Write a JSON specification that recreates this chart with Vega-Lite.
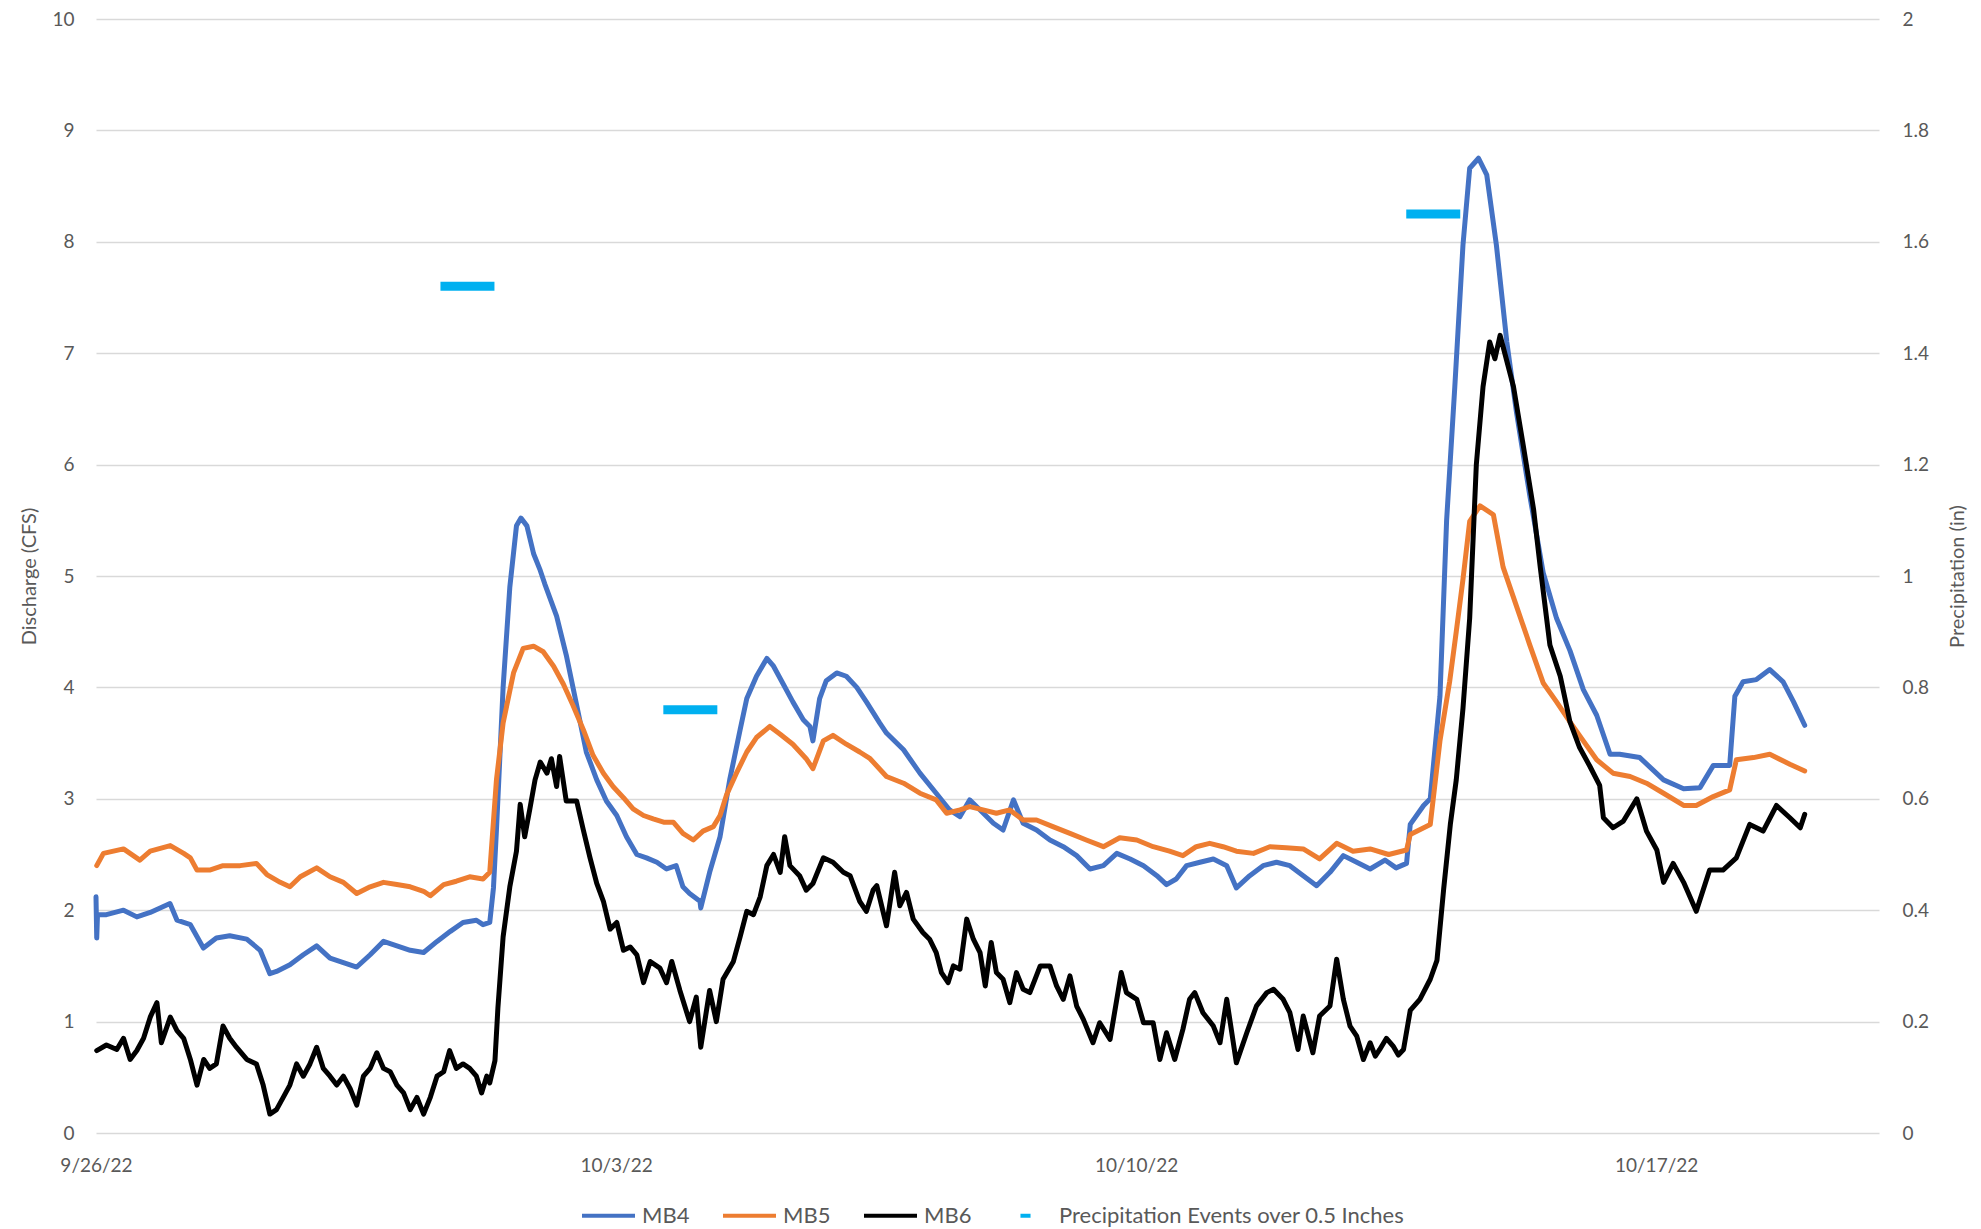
{
"$schema": "https://vega.github.io/schema/vega-lite/v6.json",
"width": 1783, "height": 1114,
"autosize": {"type": "none"},
"padding": {"left": 96, "top": 19, "right": 102, "bottom": 96},
"background": "white",
"config": {"view": {"stroke": null}, "font": "Lato",
 "axis": {"labelFont": "Lato", "titleFont": "Lato", "labelColor": "#595959", "titleColor": "#595959", "titleFontWeight": "normal", "domain": false, "ticks": false, "labelFontSize": 19, "titleFontSize": 20}},
"datasets": {
"flow": [
{"date":"2022-09-26T00:00","site":"MB4","discharge":2.12},
{"date":"2022-09-26T00:14","site":"MB4","discharge":1.75},
{"date":"2022-09-26T00:29","site":"MB4","discharge":1.96},
{"date":"2022-09-26T03:22","site":"MB4","discharge":1.96},
{"date":"2022-09-26T08:53","site":"MB4","discharge":2.00},
{"date":"2022-09-26T13:12","site":"MB4","discharge":1.94},
{"date":"2022-09-26T17:31","site":"MB4","discharge":1.98},
{"date":"2022-09-26T23:54","site":"MB4","discharge":2.06},
{"date":"2022-09-27T02:10","site":"MB4","discharge":1.91},
{"date":"2022-09-27T06:29","site":"MB4","discharge":1.87},
{"date":"2022-09-27T10:41","site":"MB4","discharge":1.66},
{"date":"2022-09-27T14:53","site":"MB4","discharge":1.75},
{"date":"2022-09-27T19:12","site":"MB4","discharge":1.77},
{"date":"2022-09-28T00:43","site":"MB4","discharge":1.74},
{"date":"2022-09-28T05:02","site":"MB4","discharge":1.64},
{"date":"2022-09-28T08:10","site":"MB4","discharge":1.43},
{"date":"2022-09-28T10:19","site":"MB4","discharge":1.45},
{"date":"2022-09-28T14:38","site":"MB4","discharge":1.51},
{"date":"2022-09-28T18:58","site":"MB4","discharge":1.60},
{"date":"2022-09-28T23:17","site":"MB4","discharge":1.68},
{"date":"2022-09-29T03:36","site":"MB4","discharge":1.57},
{"date":"2022-09-29T07:55","site":"MB4","discharge":1.53},
{"date":"2022-09-29T12:14","site":"MB4","discharge":1.49},
{"date":"2022-09-29T16:34","site":"MB4","discharge":1.60},
{"date":"2022-09-29T20:53","site":"MB4","discharge":1.72},
{"date":"2022-09-30T01:12","site":"MB4","discharge":1.68},
{"date":"2022-09-30T05:31","site":"MB4","discharge":1.64},
{"date":"2022-09-30T09:50","site":"MB4","discharge":1.62},
{"date":"2022-09-30T14:10","site":"MB4","discharge":1.72},
{"date":"2022-09-30T18:29","site":"MB4","discharge":1.81},
{"date":"2022-09-30T22:34","site":"MB4","discharge":1.89},
{"date":"2022-10-01T02:53","site":"MB4","discharge":1.91},
{"date":"2022-10-01T05:02","site":"MB4","discharge":1.87},
{"date":"2022-10-01T07:12","site":"MB4","discharge":1.89},
{"date":"2022-10-01T08:24","site":"MB4","discharge":2.20},
{"date":"2022-10-01T09:22","site":"MB4","discharge":2.72},
{"date":"2022-10-01T11:31","site":"MB4","discharge":4.00},
{"date":"2022-10-01T13:41","site":"MB4","discharge":4.90},
{"date":"2022-10-01T15:50","site":"MB4","discharge":5.45},
{"date":"2022-10-01T17:17","site":"MB4","discharge":5.52},
{"date":"2022-10-01T19:12","site":"MB4","discharge":5.45},
{"date":"2022-10-01T21:22","site":"MB4","discharge":5.20},
{"date":"2022-10-01T23:31","site":"MB4","discharge":5.05},
{"date":"2022-10-02T00:58","site":"MB4","discharge":4.93},
{"date":"2022-10-02T04:48","site":"MB4","discharge":4.64},
{"date":"2022-10-02T07:55","site":"MB4","discharge":4.29},
{"date":"2022-10-02T11:17","site":"MB4","discharge":3.84},
{"date":"2022-10-02T14:24","site":"MB4","discharge":3.42},
{"date":"2022-10-02T17:46","site":"MB4","discharge":3.17},
{"date":"2022-10-02T20:53","site":"MB4","discharge":2.98},
{"date":"2022-10-03T00:14","site":"MB4","discharge":2.85},
{"date":"2022-10-03T03:22","site":"MB4","discharge":2.66},
{"date":"2022-10-03T06:43","site":"MB4","discharge":2.50},
{"date":"2022-10-03T09:50","site":"MB4","discharge":2.47},
{"date":"2022-10-03T13:12","site":"MB4","discharge":2.43},
{"date":"2022-10-03T16:19","site":"MB4","discharge":2.37},
{"date":"2022-10-03T19:26","site":"MB4","discharge":2.40},
{"date":"2022-10-03T21:36","site":"MB4","discharge":2.21},
{"date":"2022-10-03T23:46","site":"MB4","discharge":2.15},
{"date":"2022-10-04T03:07","site":"MB4","discharge":2.08},
{"date":"2022-10-04T03:22","site":"MB4","discharge":2.02},
{"date":"2022-10-04T06:14","site":"MB4","discharge":2.34},
{"date":"2022-10-04T09:36","site":"MB4","discharge":2.66},
{"date":"2022-10-04T12:43","site":"MB4","discharge":3.17},
{"date":"2022-10-04T16:05","site":"MB4","discharge":3.62},
{"date":"2022-10-04T18:14","site":"MB4","discharge":3.90},
{"date":"2022-10-04T21:22","site":"MB4","discharge":4.10},
{"date":"2022-10-05T00:43","site":"MB4","discharge":4.26},
{"date":"2022-10-05T02:53","site":"MB4","discharge":4.19},
{"date":"2022-10-05T06:00","site":"MB4","discharge":4.03},
{"date":"2022-10-05T09:07","site":"MB4","discharge":3.87},
{"date":"2022-10-05T12:29","site":"MB4","discharge":3.71},
{"date":"2022-10-05T14:38","site":"MB4","discharge":3.65},
{"date":"2022-10-05T15:36","site":"MB4","discharge":3.52},
{"date":"2022-10-05T17:46","site":"MB4","discharge":3.90},
{"date":"2022-10-05T19:55","site":"MB4","discharge":4.06},
{"date":"2022-10-05T23:17","site":"MB4","discharge":4.13},
{"date":"2022-10-06T02:24","site":"MB4","discharge":4.10},
{"date":"2022-10-06T05:46","site":"MB4","discharge":4.00},
{"date":"2022-10-06T08:53","site":"MB4","discharge":3.87},
{"date":"2022-10-06T13:12","site":"MB4","discharge":3.68},
{"date":"2022-10-06T15:22","site":"MB4","discharge":3.59},
{"date":"2022-10-06T20:53","site":"MB4","discharge":3.44},
{"date":"2022-10-07T02:10","site":"MB4","discharge":3.23},
{"date":"2022-10-07T07:26","site":"MB4","discharge":3.05},
{"date":"2022-10-07T11:46","site":"MB4","discharge":2.90},
{"date":"2022-10-07T15:07","site":"MB4","discharge":2.84},
{"date":"2022-10-07T18:14","site":"MB4","discharge":2.99},
{"date":"2022-10-07T21:36","site":"MB4","discharge":2.90},
{"date":"2022-10-08T01:55","site":"MB4","discharge":2.78},
{"date":"2022-10-08T05:02","site":"MB4","discharge":2.72},
{"date":"2022-10-08T08:24","site":"MB4","discharge":2.99},
{"date":"2022-10-08T11:31","site":"MB4","discharge":2.78},
{"date":"2022-10-08T15:50","site":"MB4","discharge":2.72},
{"date":"2022-10-08T20:10","site":"MB4","discharge":2.63},
{"date":"2022-10-09T00:29","site":"MB4","discharge":2.57},
{"date":"2022-10-09T04:48","site":"MB4","discharge":2.49},
{"date":"2022-10-09T09:07","site":"MB4","discharge":2.37},
{"date":"2022-10-09T13:26","site":"MB4","discharge":2.40},
{"date":"2022-10-09T17:46","site":"MB4","discharge":2.51},
{"date":"2022-10-09T22:05","site":"MB4","discharge":2.46},
{"date":"2022-10-10T02:24","site":"MB4","discharge":2.40},
{"date":"2022-10-10T06:43","site":"MB4","discharge":2.31},
{"date":"2022-10-10T09:50","site":"MB4","discharge":2.23},
{"date":"2022-10-10T12:58","site":"MB4","discharge":2.28},
{"date":"2022-10-10T16:19","site":"MB4","discharge":2.40},
{"date":"2022-10-10T20:38","site":"MB4","discharge":2.43},
{"date":"2022-10-11T00:58","site":"MB4","discharge":2.46},
{"date":"2022-10-11T05:17","site":"MB4","discharge":2.40},
{"date":"2022-10-11T08:24","site":"MB4","discharge":2.20},
{"date":"2022-10-11T12:43","site":"MB4","discharge":2.31},
{"date":"2022-10-11T17:02","site":"MB4","discharge":2.40},
{"date":"2022-10-11T21:22","site":"MB4","discharge":2.43},
{"date":"2022-10-12T01:41","site":"MB4","discharge":2.40},
{"date":"2022-10-12T06:00","site":"MB4","discharge":2.31},
{"date":"2022-10-12T10:19","site":"MB4","discharge":2.22},
{"date":"2022-10-12T14:38","site":"MB4","discharge":2.34},
{"date":"2022-10-12T18:58","site":"MB4","discharge":2.49},
{"date":"2022-10-12T23:17","site":"MB4","discharge":2.43},
{"date":"2022-10-13T03:36","site":"MB4","discharge":2.37},
{"date":"2022-10-13T08:24","site":"MB4","discharge":2.45},
{"date":"2022-10-13T12:00","site":"MB4","discharge":2.38},
{"date":"2022-10-13T15:22","site":"MB4","discharge":2.42},
{"date":"2022-10-13T16:34","site":"MB4","discharge":2.77},
{"date":"2022-10-13T20:53","site":"MB4","discharge":2.94},
{"date":"2022-10-13T23:02","site":"MB4","discharge":3.00},
{"date":"2022-10-14T02:10","site":"MB4","discharge":3.92},
{"date":"2022-10-14T04:19","site":"MB4","discharge":5.50},
{"date":"2022-10-14T06:58","site":"MB4","discharge":6.70},
{"date":"2022-10-14T09:36","site":"MB4","discharge":7.97},
{"date":"2022-10-14T11:46","site":"MB4","discharge":8.66},
{"date":"2022-10-14T14:38","site":"MB4","discharge":8.75},
{"date":"2022-10-14T17:17","site":"MB4","discharge":8.60},
{"date":"2022-10-14T20:24","site":"MB4","discharge":7.97},
{"date":"2022-10-14T23:46","site":"MB4","discharge":7.10},
{"date":"2022-10-15T02:53","site":"MB4","discharge":6.47},
{"date":"2022-10-15T07:12","site":"MB4","discharge":5.72},
{"date":"2022-10-15T11:31","site":"MB4","discharge":5.03},
{"date":"2022-10-15T15:50","site":"MB4","discharge":4.62},
{"date":"2022-10-15T20:10","site":"MB4","discharge":4.33},
{"date":"2022-10-16T00:29","site":"MB4","discharge":3.98},
{"date":"2022-10-16T04:48","site":"MB4","discharge":3.75},
{"date":"2022-10-16T09:07","site":"MB4","discharge":3.40},
{"date":"2022-10-16T12:14","site":"MB4","discharge":3.40},
{"date":"2022-10-16T18:43","site":"MB4","discharge":3.37},
{"date":"2022-10-17T02:24","site":"MB4","discharge":3.17},
{"date":"2022-10-17T08:53","site":"MB4","discharge":3.09},
{"date":"2022-10-17T14:10","site":"MB4","discharge":3.10},
{"date":"2022-10-17T18:29","site":"MB4","discharge":3.30},
{"date":"2022-10-17T23:46","site":"MB4","discharge":3.30},
{"date":"2022-10-18T01:26","site":"MB4","discharge":3.92},
{"date":"2022-10-18T04:05","site":"MB4","discharge":4.05},
{"date":"2022-10-18T08:24","site":"MB4","discharge":4.07},
{"date":"2022-10-18T12:43","site":"MB4","discharge":4.16},
{"date":"2022-10-18T17:02","site":"MB4","discharge":4.05},
{"date":"2022-10-18T20:24","site":"MB4","discharge":3.87},
{"date":"2022-10-19T00:00","site":"MB4","discharge":3.66},
{"date":"2022-09-26T00:14","site":"MB5","discharge":2.40},
{"date":"2022-09-26T02:24","site":"MB5","discharge":2.51},
{"date":"2022-09-26T08:53","site":"MB5","discharge":2.55},
{"date":"2022-09-26T14:10","site":"MB5","discharge":2.45},
{"date":"2022-09-26T17:31","site":"MB5","discharge":2.53},
{"date":"2022-09-27T00:00","site":"MB5","discharge":2.58},
{"date":"2022-09-27T04:19","site":"MB5","discharge":2.51},
{"date":"2022-09-27T06:29","site":"MB5","discharge":2.47},
{"date":"2022-09-27T08:38","site":"MB5","discharge":2.36},
{"date":"2022-09-27T12:43","site":"MB5","discharge":2.36},
{"date":"2022-09-27T17:02","site":"MB5","discharge":2.40},
{"date":"2022-09-27T22:34","site":"MB5","discharge":2.40},
{"date":"2022-09-28T03:50","site":"MB5","discharge":2.42},
{"date":"2022-09-28T07:12","site":"MB5","discharge":2.32},
{"date":"2022-09-28T11:31","site":"MB5","discharge":2.25},
{"date":"2022-09-28T14:38","site":"MB5","discharge":2.21},
{"date":"2022-09-28T18:00","site":"MB5","discharge":2.30},
{"date":"2022-09-28T23:17","site":"MB5","discharge":2.38},
{"date":"2022-09-29T03:36","site":"MB5","discharge":2.30},
{"date":"2022-09-29T07:55","site":"MB5","discharge":2.25},
{"date":"2022-09-29T12:14","site":"MB5","discharge":2.15},
{"date":"2022-09-29T16:34","site":"MB5","discharge":2.21},
{"date":"2022-09-29T20:53","site":"MB5","discharge":2.25},
{"date":"2022-09-30T01:12","site":"MB5","discharge":2.23},
{"date":"2022-09-30T05:31","site":"MB5","discharge":2.21},
{"date":"2022-09-30T09:50","site":"MB5","discharge":2.17},
{"date":"2022-09-30T12:00","site":"MB5","discharge":2.13},
{"date":"2022-09-30T16:19","site":"MB5","discharge":2.23},
{"date":"2022-09-30T20:24","site":"MB5","discharge":2.26},
{"date":"2022-10-01T00:43","site":"MB5","discharge":2.30},
{"date":"2022-10-01T05:02","site":"MB5","discharge":2.28},
{"date":"2022-10-01T07:12","site":"MB5","discharge":2.34},
{"date":"2022-10-01T09:22","site":"MB5","discharge":3.17},
{"date":"2022-10-01T11:31","site":"MB5","discharge":3.68},
{"date":"2022-10-01T14:53","site":"MB5","discharge":4.13},
{"date":"2022-10-01T18:00","site":"MB5","discharge":4.35},
{"date":"2022-10-01T21:22","site":"MB5","discharge":4.37},
{"date":"2022-10-02T00:29","site":"MB5","discharge":4.32},
{"date":"2022-10-02T03:50","site":"MB5","discharge":4.19},
{"date":"2022-10-02T06:58","site":"MB5","discharge":4.03},
{"date":"2022-10-02T10:05","site":"MB5","discharge":3.84},
{"date":"2022-10-02T13:26","site":"MB5","discharge":3.62},
{"date":"2022-10-02T16:34","site":"MB5","discharge":3.39},
{"date":"2022-10-02T19:55","site":"MB5","discharge":3.23},
{"date":"2022-10-02T23:02","site":"MB5","discharge":3.11},
{"date":"2022-10-03T02:24","site":"MB5","discharge":3.01},
{"date":"2022-10-03T05:31","site":"MB5","discharge":2.91},
{"date":"2022-10-03T08:53","site":"MB5","discharge":2.85},
{"date":"2022-10-03T12:00","site":"MB5","discharge":2.82},
{"date":"2022-10-03T15:22","site":"MB5","discharge":2.79},
{"date":"2022-10-03T18:29","site":"MB5","discharge":2.79},
{"date":"2022-10-03T21:36","site":"MB5","discharge":2.69},
{"date":"2022-10-04T00:58","site":"MB5","discharge":2.63},
{"date":"2022-10-04T04:05","site":"MB5","discharge":2.71},
{"date":"2022-10-04T07:26","site":"MB5","discharge":2.75},
{"date":"2022-10-04T09:36","site":"MB5","discharge":2.85},
{"date":"2022-10-04T11:46","site":"MB5","discharge":3.04},
{"date":"2022-10-04T14:53","site":"MB5","discharge":3.23},
{"date":"2022-10-04T18:14","site":"MB5","discharge":3.42},
{"date":"2022-10-04T21:22","site":"MB5","discharge":3.55},
{"date":"2022-10-05T01:41","site":"MB5","discharge":3.65},
{"date":"2022-10-05T05:02","site":"MB5","discharge":3.58},
{"date":"2022-10-05T09:07","site":"MB5","discharge":3.49},
{"date":"2022-10-05T13:26","site":"MB5","discharge":3.36},
{"date":"2022-10-05T15:36","site":"MB5","discharge":3.27},
{"date":"2022-10-05T18:58","site":"MB5","discharge":3.52},
{"date":"2022-10-05T22:05","site":"MB5","discharge":3.57},
{"date":"2022-10-06T02:24","site":"MB5","discharge":3.49},
{"date":"2022-10-06T06:43","site":"MB5","discharge":3.42},
{"date":"2022-10-06T10:05","site":"MB5","discharge":3.36},
{"date":"2022-10-06T15:22","site":"MB5","discharge":3.20},
{"date":"2022-10-06T20:53","site":"MB5","discharge":3.14},
{"date":"2022-10-07T02:10","site":"MB5","discharge":3.05},
{"date":"2022-10-07T07:26","site":"MB5","discharge":2.99},
{"date":"2022-10-07T10:48","site":"MB5","discharge":2.87},
{"date":"2022-10-07T15:07","site":"MB5","discharge":2.90},
{"date":"2022-10-07T18:14","site":"MB5","discharge":2.93},
{"date":"2022-10-07T22:34","site":"MB5","discharge":2.90},
{"date":"2022-10-08T02:53","site":"MB5","discharge":2.87},
{"date":"2022-10-08T07:12","site":"MB5","discharge":2.90},
{"date":"2022-10-08T11:31","site":"MB5","discharge":2.81},
{"date":"2022-10-08T15:50","site":"MB5","discharge":2.81},
{"date":"2022-10-08T21:07","site":"MB5","discharge":2.75},
{"date":"2022-10-09T02:38","site":"MB5","discharge":2.69},
{"date":"2022-10-09T07:55","site":"MB5","discharge":2.63},
{"date":"2022-10-09T13:26","site":"MB5","discharge":2.57},
{"date":"2022-10-09T18:43","site":"MB5","discharge":2.65},
{"date":"2022-10-10T00:14","site":"MB5","discharge":2.63},
{"date":"2022-10-10T05:31","site":"MB5","discharge":2.57},
{"date":"2022-10-10T10:48","site":"MB5","discharge":2.53},
{"date":"2022-10-10T15:07","site":"MB5","discharge":2.49},
{"date":"2022-10-10T19:26","site":"MB5","discharge":2.57},
{"date":"2022-10-10T23:46","site":"MB5","discharge":2.60},
{"date":"2022-10-11T04:05","site":"MB5","discharge":2.57},
{"date":"2022-10-11T08:24","site":"MB5","discharge":2.53},
{"date":"2022-10-11T13:55","site":"MB5","discharge":2.51},
{"date":"2022-10-11T19:12","site":"MB5","discharge":2.57},
{"date":"2022-10-12T00:29","site":"MB5","discharge":2.56},
{"date":"2022-10-12T06:00","site":"MB5","discharge":2.55},
{"date":"2022-10-12T11:17","site":"MB5","discharge":2.46},
{"date":"2022-10-12T16:48","site":"MB5","discharge":2.60},
{"date":"2022-10-12T22:05","site":"MB5","discharge":2.53},
{"date":"2022-10-13T03:36","site":"MB5","discharge":2.55},
{"date":"2022-10-13T09:36","site":"MB5","discharge":2.50},
{"date":"2022-10-13T15:22","site":"MB5","discharge":2.54},
{"date":"2022-10-13T16:34","site":"MB5","discharge":2.68},
{"date":"2022-10-13T23:02","site":"MB5","discharge":2.77},
{"date":"2022-10-14T02:10","site":"MB5","discharge":3.52},
{"date":"2022-10-14T05:17","site":"MB5","discharge":4.05},
{"date":"2022-10-14T07:26","site":"MB5","discharge":4.50},
{"date":"2022-10-14T09:36","site":"MB5","discharge":4.97},
{"date":"2022-10-14T11:46","site":"MB5","discharge":5.49},
{"date":"2022-10-14T15:07","site":"MB5","discharge":5.63},
{"date":"2022-10-14T19:26","site":"MB5","discharge":5.55},
{"date":"2022-10-14T22:34","site":"MB5","discharge":5.08},
{"date":"2022-10-15T02:53","site":"MB5","discharge":4.73},
{"date":"2022-10-15T07:12","site":"MB5","discharge":4.38},
{"date":"2022-10-15T11:31","site":"MB5","discharge":4.04},
{"date":"2022-10-15T15:50","site":"MB5","discharge":3.87},
{"date":"2022-10-15T20:10","site":"MB5","discharge":3.69},
{"date":"2022-10-16T00:29","site":"MB5","discharge":3.52},
{"date":"2022-10-16T04:48","site":"MB5","discharge":3.35},
{"date":"2022-10-16T10:05","site":"MB5","discharge":3.23},
{"date":"2022-10-16T15:36","site":"MB5","discharge":3.20},
{"date":"2022-10-16T20:53","site":"MB5","discharge":3.14},
{"date":"2022-10-17T02:24","site":"MB5","discharge":3.05},
{"date":"2022-10-17T08:53","site":"MB5","discharge":2.94},
{"date":"2022-10-17T12:58","site":"MB5","discharge":2.94},
{"date":"2022-10-17T18:29","site":"MB5","discharge":3.02},
{"date":"2022-10-17T23:46","site":"MB5","discharge":3.08},
{"date":"2022-10-18T01:55","site":"MB5","discharge":3.35},
{"date":"2022-10-18T07:26","site":"MB5","discharge":3.37},
{"date":"2022-10-18T12:43","site":"MB5","discharge":3.40},
{"date":"2022-10-18T19:12","site":"MB5","discharge":3.31},
{"date":"2022-10-19T00:00","site":"MB5","discharge":3.25},
{"date":"2022-09-26T00:14","site":"MB6","discharge":0.74},
{"date":"2022-09-26T03:22","site":"MB6","discharge":0.79},
{"date":"2022-09-26T06:43","site":"MB6","discharge":0.75},
{"date":"2022-09-26T08:53","site":"MB6","discharge":0.85},
{"date":"2022-09-26T11:02","site":"MB6","discharge":0.66},
{"date":"2022-09-26T13:12","site":"MB6","discharge":0.74},
{"date":"2022-09-26T15:22","site":"MB6","discharge":0.85},
{"date":"2022-09-26T17:31","site":"MB6","discharge":1.04},
{"date":"2022-09-26T19:41","site":"MB6","discharge":1.17},
{"date":"2022-09-26T21:07","site":"MB6","discharge":0.81},
{"date":"2022-09-27T00:00","site":"MB6","discharge":1.04},
{"date":"2022-09-27T02:10","site":"MB6","discharge":0.92},
{"date":"2022-09-27T04:19","site":"MB6","discharge":0.85},
{"date":"2022-09-27T06:29","site":"MB6","discharge":0.66},
{"date":"2022-09-27T08:38","site":"MB6","discharge":0.43},
{"date":"2022-09-27T10:48","site":"MB6","discharge":0.66},
{"date":"2022-09-27T12:43","site":"MB6","discharge":0.58},
{"date":"2022-09-27T14:53","site":"MB6","discharge":0.62},
{"date":"2022-09-27T17:02","site":"MB6","discharge":0.96},
{"date":"2022-09-27T19:12","site":"MB6","discharge":0.85},
{"date":"2022-09-27T21:22","site":"MB6","discharge":0.77},
{"date":"2022-09-28T00:43","site":"MB6","discharge":0.66},
{"date":"2022-09-28T03:50","site":"MB6","discharge":0.62},
{"date":"2022-09-28T06:00","site":"MB6","discharge":0.43},
{"date":"2022-09-28T08:10","site":"MB6","discharge":0.17},
{"date":"2022-09-28T10:19","site":"MB6","discharge":0.21},
{"date":"2022-09-28T12:29","site":"MB6","discharge":0.32},
{"date":"2022-09-28T14:38","site":"MB6","discharge":0.43},
{"date":"2022-09-28T16:48","site":"MB6","discharge":0.62},
{"date":"2022-09-28T18:58","site":"MB6","discharge":0.51},
{"date":"2022-09-28T21:07","site":"MB6","discharge":0.62},
{"date":"2022-09-28T23:17","site":"MB6","discharge":0.77},
{"date":"2022-09-29T01:26","site":"MB6","discharge":0.58},
{"date":"2022-09-29T03:36","site":"MB6","discharge":0.51},
{"date":"2022-09-29T05:46","site":"MB6","discharge":0.43},
{"date":"2022-09-29T07:55","site":"MB6","discharge":0.51},
{"date":"2022-09-29T10:05","site":"MB6","discharge":0.40},
{"date":"2022-09-29T12:14","site":"MB6","discharge":0.25},
{"date":"2022-09-29T14:24","site":"MB6","discharge":0.51},
{"date":"2022-09-29T16:34","site":"MB6","discharge":0.58},
{"date":"2022-09-29T18:43","site":"MB6","discharge":0.72},
{"date":"2022-09-29T20:53","site":"MB6","discharge":0.58},
{"date":"2022-09-29T23:02","site":"MB6","discharge":0.55},
{"date":"2022-09-30T01:12","site":"MB6","discharge":0.43},
{"date":"2022-09-30T03:22","site":"MB6","discharge":0.36},
{"date":"2022-09-30T05:31","site":"MB6","discharge":0.21},
{"date":"2022-09-30T07:41","site":"MB6","discharge":0.32},
{"date":"2022-09-30T09:50","site":"MB6","discharge":0.17},
{"date":"2022-09-30T12:00","site":"MB6","discharge":0.32},
{"date":"2022-09-30T14:10","site":"MB6","discharge":0.51},
{"date":"2022-09-30T16:19","site":"MB6","discharge":0.55},
{"date":"2022-09-30T18:14","site":"MB6","discharge":0.74},
{"date":"2022-09-30T20:24","site":"MB6","discharge":0.58},
{"date":"2022-09-30T22:34","site":"MB6","discharge":0.62},
{"date":"2022-10-01T00:43","site":"MB6","discharge":0.58},
{"date":"2022-10-01T02:53","site":"MB6","discharge":0.51},
{"date":"2022-10-01T04:34","site":"MB6","discharge":0.36},
{"date":"2022-10-01T06:14","site":"MB6","discharge":0.51},
{"date":"2022-10-01T07:12","site":"MB6","discharge":0.45},
{"date":"2022-10-01T08:53","site":"MB6","discharge":0.65},
{"date":"2022-10-01T09:50","site":"MB6","discharge":1.12},
{"date":"2022-10-01T11:31","site":"MB6","discharge":1.76},
{"date":"2022-10-01T13:41","site":"MB6","discharge":2.21},
{"date":"2022-10-01T15:50","site":"MB6","discharge":2.53},
{"date":"2022-10-01T17:02","site":"MB6","discharge":2.95},
{"date":"2022-10-01T18:29","site":"MB6","discharge":2.66},
{"date":"2022-10-01T20:10","site":"MB6","discharge":2.91},
{"date":"2022-10-01T21:50","site":"MB6","discharge":3.17},
{"date":"2022-10-01T23:31","site":"MB6","discharge":3.33},
{"date":"2022-10-02T01:41","site":"MB6","discharge":3.23},
{"date":"2022-10-02T03:07","site":"MB6","discharge":3.36},
{"date":"2022-10-02T04:48","site":"MB6","discharge":3.11},
{"date":"2022-10-02T05:46","site":"MB6","discharge":3.38},
{"date":"2022-10-02T07:55","site":"MB6","discharge":2.98},
{"date":"2022-10-02T11:17","site":"MB6","discharge":2.98},
{"date":"2022-10-02T13:26","site":"MB6","discharge":2.72},
{"date":"2022-10-02T15:36","site":"MB6","discharge":2.47},
{"date":"2022-10-02T17:46","site":"MB6","discharge":2.24},
{"date":"2022-10-02T19:55","site":"MB6","discharge":2.08},
{"date":"2022-10-02T22:05","site":"MB6","discharge":1.83},
{"date":"2022-10-03T00:14","site":"MB6","discharge":1.89},
{"date":"2022-10-03T02:24","site":"MB6","discharge":1.64},
{"date":"2022-10-03T04:34","site":"MB6","discharge":1.67},
{"date":"2022-10-03T06:43","site":"MB6","discharge":1.60},
{"date":"2022-10-03T08:53","site":"MB6","discharge":1.35},
{"date":"2022-10-03T11:02","site":"MB6","discharge":1.54},
{"date":"2022-10-03T14:10","site":"MB6","discharge":1.48},
{"date":"2022-10-03T16:19","site":"MB6","discharge":1.35},
{"date":"2022-10-03T18:00","site":"MB6","discharge":1.54},
{"date":"2022-10-03T20:38","site":"MB6","discharge":1.28},
{"date":"2022-10-03T23:46","site":"MB6","discharge":1.00},
{"date":"2022-10-04T01:55","site":"MB6","discharge":1.22},
{"date":"2022-10-04T03:22","site":"MB6","discharge":0.77},
{"date":"2022-10-04T06:14","site":"MB6","discharge":1.28},
{"date":"2022-10-04T08:24","site":"MB6","discharge":1.00},
{"date":"2022-10-04T10:34","site":"MB6","discharge":1.38},
{"date":"2022-10-04T13:55","site":"MB6","discharge":1.54},
{"date":"2022-10-04T16:05","site":"MB6","discharge":1.76},
{"date":"2022-10-04T18:14","site":"MB6","discharge":1.99},
{"date":"2022-10-04T20:24","site":"MB6","discharge":1.96},
{"date":"2022-10-04T22:34","site":"MB6","discharge":2.12},
{"date":"2022-10-05T00:43","site":"MB6","discharge":2.40},
{"date":"2022-10-05T02:53","site":"MB6","discharge":2.50},
{"date":"2022-10-05T05:02","site":"MB6","discharge":2.34},
{"date":"2022-10-05T06:29","site":"MB6","discharge":2.66},
{"date":"2022-10-05T08:10","site":"MB6","discharge":2.40},
{"date":"2022-10-05T11:17","site":"MB6","discharge":2.31},
{"date":"2022-10-05T13:26","site":"MB6","discharge":2.18},
{"date":"2022-10-05T15:36","site":"MB6","discharge":2.24},
{"date":"2022-10-05T18:58","site":"MB6","discharge":2.47},
{"date":"2022-10-05T22:05","site":"MB6","discharge":2.43},
{"date":"2022-10-06T01:26","site":"MB6","discharge":2.34},
{"date":"2022-10-06T03:36","site":"MB6","discharge":2.31},
{"date":"2022-10-06T06:43","site":"MB6","discharge":2.08},
{"date":"2022-10-06T08:53","site":"MB6","discharge":1.99},
{"date":"2022-10-06T11:02","site":"MB6","discharge":2.18},
{"date":"2022-10-06T12:14","site":"MB6","discharge":2.22},
{"date":"2022-10-06T15:22","site":"MB6","discharge":1.86},
{"date":"2022-10-06T18:00","site":"MB6","discharge":2.34},
{"date":"2022-10-06T19:41","site":"MB6","discharge":2.04},
{"date":"2022-10-06T21:50","site":"MB6","discharge":2.16},
{"date":"2022-10-07T00:00","site":"MB6","discharge":1.92},
{"date":"2022-10-07T03:07","site":"MB6","discharge":1.80},
{"date":"2022-10-07T05:17","site":"MB6","discharge":1.74},
{"date":"2022-10-07T07:26","site":"MB6","discharge":1.62},
{"date":"2022-10-07T09:07","site":"MB6","discharge":1.44},
{"date":"2022-10-07T11:17","site":"MB6","discharge":1.35},
{"date":"2022-10-07T12:58","site":"MB6","discharge":1.50},
{"date":"2022-10-07T15:07","site":"MB6","discharge":1.47},
{"date":"2022-10-07T17:17","site":"MB6","discharge":1.92},
{"date":"2022-10-07T19:26","site":"MB6","discharge":1.74},
{"date":"2022-10-07T21:36","site":"MB6","discharge":1.62},
{"date":"2022-10-07T23:17","site":"MB6","discharge":1.32},
{"date":"2022-10-08T01:12","site":"MB6","discharge":1.71},
{"date":"2022-10-08T02:53","site":"MB6","discharge":1.44},
{"date":"2022-10-08T05:02","site":"MB6","discharge":1.38},
{"date":"2022-10-08T07:12","site":"MB6","discharge":1.17},
{"date":"2022-10-08T09:22","site":"MB6","discharge":1.44},
{"date":"2022-10-08T11:31","site":"MB6","discharge":1.29},
{"date":"2022-10-08T13:41","site":"MB6","discharge":1.26},
{"date":"2022-10-08T17:02","site":"MB6","discharge":1.50},
{"date":"2022-10-08T20:10","site":"MB6","discharge":1.50},
{"date":"2022-10-08T22:19","site":"MB6","discharge":1.32},
{"date":"2022-10-09T00:29","site":"MB6","discharge":1.20},
{"date":"2022-10-09T02:38","site":"MB6","discharge":1.41},
{"date":"2022-10-09T04:48","site":"MB6","discharge":1.14},
{"date":"2022-10-09T06:58","site":"MB6","discharge":1.02},
{"date":"2022-10-09T10:05","site":"MB6","discharge":0.81},
{"date":"2022-10-09T12:14","site":"MB6","discharge":0.99},
{"date":"2022-10-09T15:36","site":"MB6","discharge":0.84},
{"date":"2022-10-09T17:46","site":"MB6","discharge":1.20},
{"date":"2022-10-09T19:12","site":"MB6","discharge":1.44},
{"date":"2022-10-09T20:53","site":"MB6","discharge":1.26},
{"date":"2022-10-10T00:14","site":"MB6","discharge":1.20},
{"date":"2022-10-10T02:24","site":"MB6","discharge":0.99},
{"date":"2022-10-10T05:31","site":"MB6","discharge":0.99},
{"date":"2022-10-10T07:41","site":"MB6","discharge":0.66},
{"date":"2022-10-10T09:50","site":"MB6","discharge":0.90},
{"date":"2022-10-10T12:29","site":"MB6","discharge":0.66},
{"date":"2022-10-10T15:07","site":"MB6","discharge":0.93},
{"date":"2022-10-10T17:17","site":"MB6","discharge":1.20},
{"date":"2022-10-10T18:58","site":"MB6","discharge":1.26},
{"date":"2022-10-10T21:36","site":"MB6","discharge":1.08},
{"date":"2022-10-11T00:58","site":"MB6","discharge":0.96},
{"date":"2022-10-11T03:07","site":"MB6","discharge":0.81},
{"date":"2022-10-11T05:17","site":"MB6","discharge":1.20},
{"date":"2022-10-11T08:24","site":"MB6","discharge":0.63},
{"date":"2022-10-11T11:46","site":"MB6","discharge":0.90},
{"date":"2022-10-11T14:53","site":"MB6","discharge":1.14},
{"date":"2022-10-11T18:14","site":"MB6","discharge":1.26},
{"date":"2022-10-11T20:24","site":"MB6","discharge":1.29},
{"date":"2022-10-11T23:31","site":"MB6","discharge":1.20},
{"date":"2022-10-12T01:41","site":"MB6","discharge":1.08},
{"date":"2022-10-12T04:19","site":"MB6","discharge":0.75},
{"date":"2022-10-12T06:00","site":"MB6","discharge":1.05},
{"date":"2022-10-12T09:07","site":"MB6","discharge":0.72},
{"date":"2022-10-12T11:17","site":"MB6","discharge":1.05},
{"date":"2022-10-12T14:38","site":"MB6","discharge":1.14},
{"date":"2022-10-12T16:48","site":"MB6","discharge":1.56},
{"date":"2022-10-12T18:58","site":"MB6","discharge":1.20},
{"date":"2022-10-12T21:07","site":"MB6","discharge":0.96},
{"date":"2022-10-12T23:17","site":"MB6","discharge":0.87},
{"date":"2022-10-13T01:26","site":"MB6","discharge":0.66},
{"date":"2022-10-13T03:36","site":"MB6","discharge":0.81},
{"date":"2022-10-13T05:17","site":"MB6","discharge":0.69},
{"date":"2022-10-13T06:43","site":"MB6","discharge":0.75},
{"date":"2022-10-13T08:53","site":"MB6","discharge":0.85},
{"date":"2022-10-13T11:02","site":"MB6","discharge":0.78},
{"date":"2022-10-13T12:43","site":"MB6","discharge":0.70},
{"date":"2022-10-13T14:24","site":"MB6","discharge":0.75},
{"date":"2022-10-13T16:34","site":"MB6","discharge":1.10},
{"date":"2022-10-13T19:41","site":"MB6","discharge":1.20},
{"date":"2022-10-13T23:02","site":"MB6","discharge":1.38},
{"date":"2022-10-14T01:12","site":"MB6","discharge":1.55},
{"date":"2022-10-14T03:22","site":"MB6","discharge":2.19},
{"date":"2022-10-14T05:31","site":"MB6","discharge":2.77},
{"date":"2022-10-14T07:26","site":"MB6","discharge":3.17},
{"date":"2022-10-14T09:36","site":"MB6","discharge":3.81},
{"date":"2022-10-14T11:46","site":"MB6","discharge":4.62},
{"date":"2022-10-14T13:55","site":"MB6","discharge":6.00},
{"date":"2022-10-14T16:05","site":"MB6","discharge":6.70},
{"date":"2022-10-14T18:14","site":"MB6","discharge":7.10},
{"date":"2022-10-14T19:55","site":"MB6","discharge":6.95},
{"date":"2022-10-14T21:36","site":"MB6","discharge":7.16},
{"date":"2022-10-14T23:46","site":"MB6","discharge":6.93},
{"date":"2022-10-15T01:55","site":"MB6","discharge":6.70},
{"date":"2022-10-15T05:02","site":"MB6","discharge":6.18},
{"date":"2022-10-15T08:24","site":"MB6","discharge":5.60},
{"date":"2022-10-15T10:34","site":"MB6","discharge":5.08},
{"date":"2022-10-15T13:41","site":"MB6","discharge":4.38},
{"date":"2022-10-15T17:02","site":"MB6","discharge":4.10},
{"date":"2022-10-15T20:10","site":"MB6","discharge":3.69},
{"date":"2022-10-15T23:17","site":"MB6","discharge":3.46},
{"date":"2022-10-16T02:38","site":"MB6","discharge":3.29},
{"date":"2022-10-16T05:46","site":"MB6","discharge":3.12},
{"date":"2022-10-16T06:58","site":"MB6","discharge":2.83},
{"date":"2022-10-16T10:05","site":"MB6","discharge":2.74},
{"date":"2022-10-16T13:26","site":"MB6","discharge":2.80},
{"date":"2022-10-16T17:46","site":"MB6","discharge":3.00},
{"date":"2022-10-16T20:53","site":"MB6","discharge":2.71},
{"date":"2022-10-17T00:14","site":"MB6","discharge":2.54},
{"date":"2022-10-17T02:24","site":"MB6","discharge":2.25},
{"date":"2022-10-17T05:31","site":"MB6","discharge":2.42},
{"date":"2022-10-17T08:53","site":"MB6","discharge":2.25},
{"date":"2022-10-17T12:58","site":"MB6","discharge":1.99},
{"date":"2022-10-17T17:17","site":"MB6","discharge":2.36},
{"date":"2022-10-17T21:36","site":"MB6","discharge":2.36},
{"date":"2022-10-18T01:55","site":"MB6","discharge":2.47},
{"date":"2022-10-18T06:14","site":"MB6","discharge":2.77},
{"date":"2022-10-18T10:34","site":"MB6","discharge":2.71},
{"date":"2022-10-18T14:53","site":"MB6","discharge":2.94},
{"date":"2022-10-18T19:12","site":"MB6","discharge":2.83},
{"date":"2022-10-18T22:34","site":"MB6","discharge":2.74},
{"date":"2022-10-19T00:00","site":"MB6","discharge":2.86}
],
"precip": [
{"date":"2022-10-01T00:00","site":"Precipitation Events over 0.5 Inches","precip":1.52},
{"date":"2022-10-04T00:00","site":"Precipitation Events over 0.5 Inches","precip":0.76},
{"date":"2022-10-14T00:00","site":"Precipitation Events over 0.5 Inches","precip":1.65}
]
},
"layer": [
{
"data": {"name": "flow"},
"mark": {"type": "line", "strokeJoin": "round", "strokeCap": "round"},
"encoding": {
 "x": {"field": "date", "type": "temporal",
  "scale": {"domain": [{"year": 2022, "month": 9, "date": 26}, {"year": 2022, "month": 10, "date": 20}], "nice": false},
  "axis": {"values": [{"year": 2022, "month": 9, "date": 26}, {"year": 2022, "month": 10, "date": 3}, {"year": 2022, "month": 10, "date": 10}, {"year": 2022, "month": 10, "date": 17}], "format": "%-m/%-d/%y", "labelPadding": 23, "labelFlush": false, "labelOverlap": false, "grid": false, "title": null}},
 "y": {"field": "discharge", "type": "quantitative",
  "scale": {"domain": [0, 10], "nice": false},
  "axis": {"values": [0,1,2,3,4,5,6,7,8,9,10], "title": "Discharge (CFS)", "grid": true, "gridColor": "#D9D9D9", "gridWidth": 1.5, "labelPadding": 22, "titlePadding": 12}},
 "color": {"field": "site", "type": "nominal",
  "scale": {"domain": ["MB4", "MB5", "MB6", "Precipitation Events over 0.5 Inches"], "range": ["#4472C4", "#ED7D31", "#000000", "#00B0F0"]},
  "legend": {"orient": "none", "legendX": 484, "legendY": 1168, "direction": "horizontal", "title": null,
   "symbolType": "stroke", "symbolSize": 2809, "symbolStrokeWidth": 4,
   "labelFont": "Lato", "labelFontSize": 22, "labelColor": "#595959", "labelOffset": 5, "labelLimit": 0, "columnPadding": 25,
   "encode": {"symbols": {"update": {
     "shape": {"signal": "datum.value === 'Precipitation Events over 0.5 Inches' ? 'M-0.19,0H0.19' : 'stroke'"}}}}}},
 "strokeWidth": {"field": "site", "type": "nominal", "scale": {"domain": ["MB4", "MB5", "MB6"], "range": [5, 5, 2.4]}, "legend": null}
}
},
{
"data": {"name": "precip"},
"mark": {"type": "tick", "orient": "horizontal", "size": 54, "thickness": 9, "opacity": 1},
"encoding": {
 "x": {"field": "date", "type": "temporal"},
 "y": {"field": "precip", "type": "quantitative",
  "scale": {"domain": [0, 2], "nice": false},
  "axis": {"orient": "right", "values": [0,0.2,0.4,0.6,0.8,1,1.2,1.4,1.6,1.8,2], "format": ".1~f", "title": "Precipitation (in)", "titleAngle": 270, "grid": false, "labelPadding": 23, "titlePadding": 39}},
 "color": {"field": "site", "type": "nominal"}
}
}
],
"resolve": {"scale": {"y": "independent"}}
}
